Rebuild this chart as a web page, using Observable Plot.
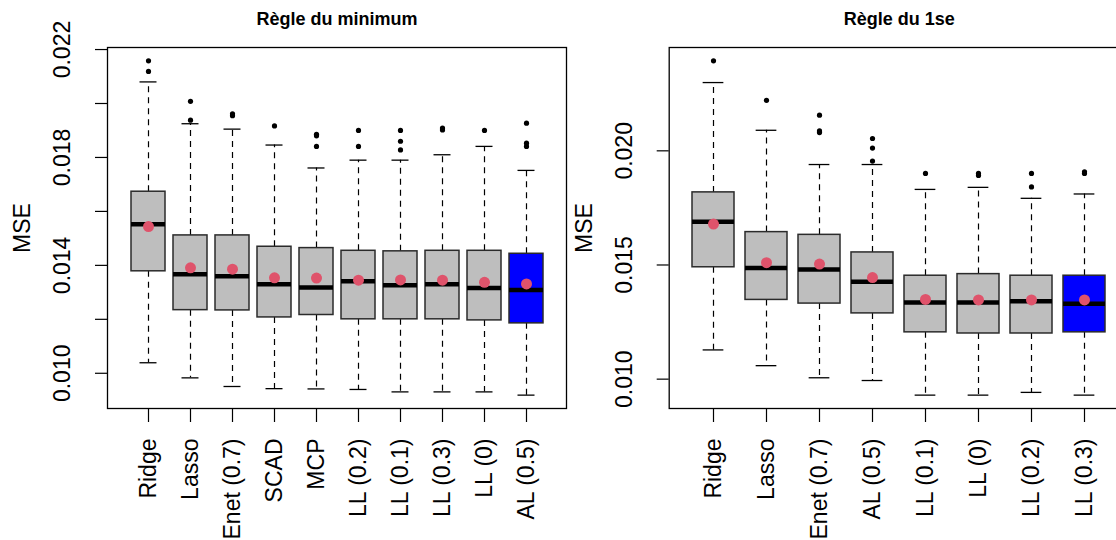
<!DOCTYPE html>
<html>
<head>
<meta charset="utf-8">
<script src="https://cdn.jsdelivr.net/npm/d3@7"></script>
<script src="https://cdn.jsdelivr.net/npm/@observablehq/plot@0.6"></script>
<style>
  html, body { margin: 0; padding: 0; background: #fff; }
  #figure { position: relative; width: 1116px; height: 540px; overflow: hidden; background: #fff; }
  #figure > svg { position: absolute; top: 0; }
</style>
</head>
<body>
<div id="figure"></div>
<script>
// ---- "Règle du minimum" panel: boxplot summaries of the test MSE ----
const minCategories = ["Ridge", "Lasso", "Enet (0.7)", "SCAD", "MCP", "LL (0.2)", "LL (0.1)", "LL (0.3)", "LL (0)", "AL (0.5)"];
const minLower   = [0.01039, 0.00983, 0.00951, 0.00943, 0.00942, 0.00940, 0.00931, 0.00931, 0.00931, 0.00919];
const minQ1      = [0.01378, 0.01234, 0.01233, 0.01207, 0.01216, 0.01200, 0.01200, 0.01200, 0.01196, 0.01185];
const minMedian  = [0.01552, 0.01367, 0.01360, 0.01330, 0.01318, 0.01341, 0.01326, 0.01330, 0.01316, 0.01309];
const minQ3      = [0.01673, 0.01511, 0.01511, 0.01469, 0.01464, 0.01454, 0.01452, 0.01454, 0.01454, 0.01443];
const minUpper   = [0.02080, 0.01925, 0.01905, 0.01846, 0.01761, 0.01790, 0.01790, 0.01810, 0.01841, 0.01752];
const minMean    = [0.01544, 0.01391, 0.01386, 0.01354, 0.01353, 0.01345, 0.01346, 0.01345, 0.01337, 0.01331];
const minOutliers = [
  [0.02158, 0.02119], [0.02008, 0.01938], [0.01962, 0.01955], [0.01917],
  [0.01886, 0.01880, 0.01841], [0.01900, 0.01841], [0.01900, 0.01860, 0.01828],
  [0.01909, 0.01902], [0.01900], [0.01927, 0.01853, 0.01841]
];
const minHighlight = "AL (0.5)";
const minTicks  = [0.010, 0.012, 0.014, 0.016, 0.018, 0.020, 0.022];
const minLabels = [0.010, 0.014, 0.018, 0.022];

// ---- "Règle du 1se" panel ----
const seCategories = ["Ridge", "Lasso", "Enet (0.7)", "AL (0.5)", "LL (0.1)", "LL (0)", "LL (0.2)", "LL (0.3)"];
const seLower   = [0.01128, 0.01059, 0.01006, 0.00994, 0.00930, 0.00930, 0.00942, 0.00930];
const seQ1      = [0.01490, 0.01347, 0.01331, 0.01288, 0.01205, 0.01200, 0.01200, 0.01205];
const seMedian  = [0.01689, 0.01487, 0.01480, 0.01427, 0.01336, 0.01336, 0.01341, 0.01330];
const seQ3      = [0.01818, 0.01644, 0.01632, 0.01555, 0.01453, 0.01460, 0.01453, 0.01453];
const seUpper   = [0.02299, 0.02090, 0.01940, 0.01940, 0.01831, 0.01840, 0.01792, 0.01811];
const seMean    = [0.01679, 0.01510, 0.01504, 0.01445, 0.01349, 0.01347, 0.01347, 0.01347];
const seOutliers = [
  [0.02394], [0.02221], [0.02156, 0.02087, 0.02080], [0.02054, 0.02012, 0.01955],
  [0.01901], [0.01901, 0.01892], [0.01901, 0.01842], [0.01908, 0.01901]
];
const seHighlight = "LL (0.3)";
const seTicks  = [0.010, 0.015, 0.020];
const seLabels = [0.010, 0.015, 0.020];

const FONT = "'Liberation Sans', Arial, Helvetica, sans-serif";
const fmt = d3.format(".3f");

function boxPanel({title, categories, lower, q1, median, q3, upper, mean, outliers, highlight,
                   ticks, labels, left, width, marginLeft, marginRight}) {
  const rows = categories.map((category, i) => ({
    category, lower: lower[i], q1: q1[i], median: median[i], q3: q3[i], upper: upper[i], mean: mean[i]
  }));
  const outlierRows = categories.flatMap((category, i) => outliers[i].map((value) => ({category, value})));

  // y range like R: data extent widened by 4% on each side
  const all = [...lower, ...upper, ...outliers.flat()];
  const [lo, hi] = d3.extent(all);
  const pad = (hi - lo) * 0.04;

  // x range like R's boxplot: groups at 1..n, limits 0.5..n+0.5 widened by 4%
  const n = categories.length;
  const height = 540, marginTop = 47, marginBottom = 132;
  const step = (width - marginLeft - marginRight) / (n * 1.08);
  const capInset = 0.2 * step; // staples are half the box width

  const plot = Plot.plot({
    width, height, marginLeft, marginRight, marginTop, marginBottom,
    style: {fontFamily: FONT, fontSize: "23px", background: "transparent", overflow: "visible"},
    x: {type: "band", domain: categories, paddingInner: 0.2, paddingOuter: (0.08 * n + 0.2) / 2},
    y: {domain: [lo - pad, hi + pad]},
    marks: [
      // whiskers and staples
      Plot.ruleX(rows, {x: "category", y1: "q3", y2: "upper", stroke: "black", strokeWidth: 1.2, strokeDasharray: "6,5"}),
      Plot.ruleX(rows, {x: "category", y1: "q1", y2: "lower", stroke: "black", strokeWidth: 1.2, strokeDasharray: "6,5"}),
      Plot.tickY(rows, {x: "category", y: "upper", stroke: "black", strokeWidth: 1.3, insetLeft: capInset, insetRight: capInset}),
      Plot.tickY(rows, {x: "category", y: "lower", stroke: "black", strokeWidth: 1.3, insetLeft: capInset, insetRight: capInset}),
      // boxes
      Plot.barY(rows, {x: "category", y1: "q1", y2: "q3",
        fill: (d) => d.category === highlight ? "#0000FF" : "#BEBEBE",
        stroke: "#2b2b2b", strokeWidth: 1.5}),
      // medians
      Plot.tickY(rows, {x: "category", y: "median", stroke: "black", strokeWidth: 4.5}),
      // outliers
      Plot.dot(outlierRows, {x: "category", y: "value", r: 2.6, fill: "black", stroke: null}),
      // means
      Plot.dot(rows, {x: "category", y: "mean", r: 5.5, fill: "#DF536B", stroke: null}),
      // frame and axes
      Plot.frame({stroke: "black", strokeWidth: 1.3}),
      Plot.axisY(ticks, {tickSize: 12, tickFormat: () => "", label: null, strokeWidth: 1.2}),
      Plot.axisX({tickSize: 14, tickFormat: () => "", label: null, strokeWidth: 1.2}),
      Plot.text(labels, {y: (d) => d, text: (d) => fmt(d), frameAnchor: "left", dx: -45,
        rotate: -90, textAnchor: "middle", lineAnchor: "middle", fill: "black"}),
      Plot.text(categories, {x: (d) => d, text: (d) => d, frameAnchor: "bottom", dy: 30,
        rotate: -90, textAnchor: "end", lineAnchor: "middle", fill: "black"}),
      Plot.text(["MSE"], {text: (d) => d, frameAnchor: "left", dx: -85, rotate: -90,
        textAnchor: "middle", lineAnchor: "middle", fill: "black"}),
      Plot.text([title], {text: (d) => d, frameAnchor: "top", dy: -28, fontWeight: "bold",
        fontSize: 18, textAnchor: "middle", lineAnchor: "middle", fill: "black"})
    ]
  });
  plot.style.left = `${left}px`;
  return plot;
}

const fig = document.getElementById("figure");
fig.append(boxPanel({
  title: "Règle du minimum", categories: minCategories, lower: minLower, q1: minQ1, median: minMedian,
  q3: minQ3, upper: minUpper, mean: minMean, outliers: minOutliers, highlight: minHighlight,
  ticks: minTicks, labels: minLabels, left: 0, width: 580, marginLeft: 107, marginRight: 14
}));
fig.append(boxPanel({
  title: "Règle du 1se", categories: seCategories, lower: seLower, q1: seQ1, median: seMedian,
  q3: seQ3, upper: seUpper, mean: seMean, outliers: seOutliers, highlight: seHighlight,
  ticks: seTicks, labels: seLabels, left: 580, width: 570, marginLeft: 88.7, marginRight: 21.4
}));
</script>
</body>
</html>
